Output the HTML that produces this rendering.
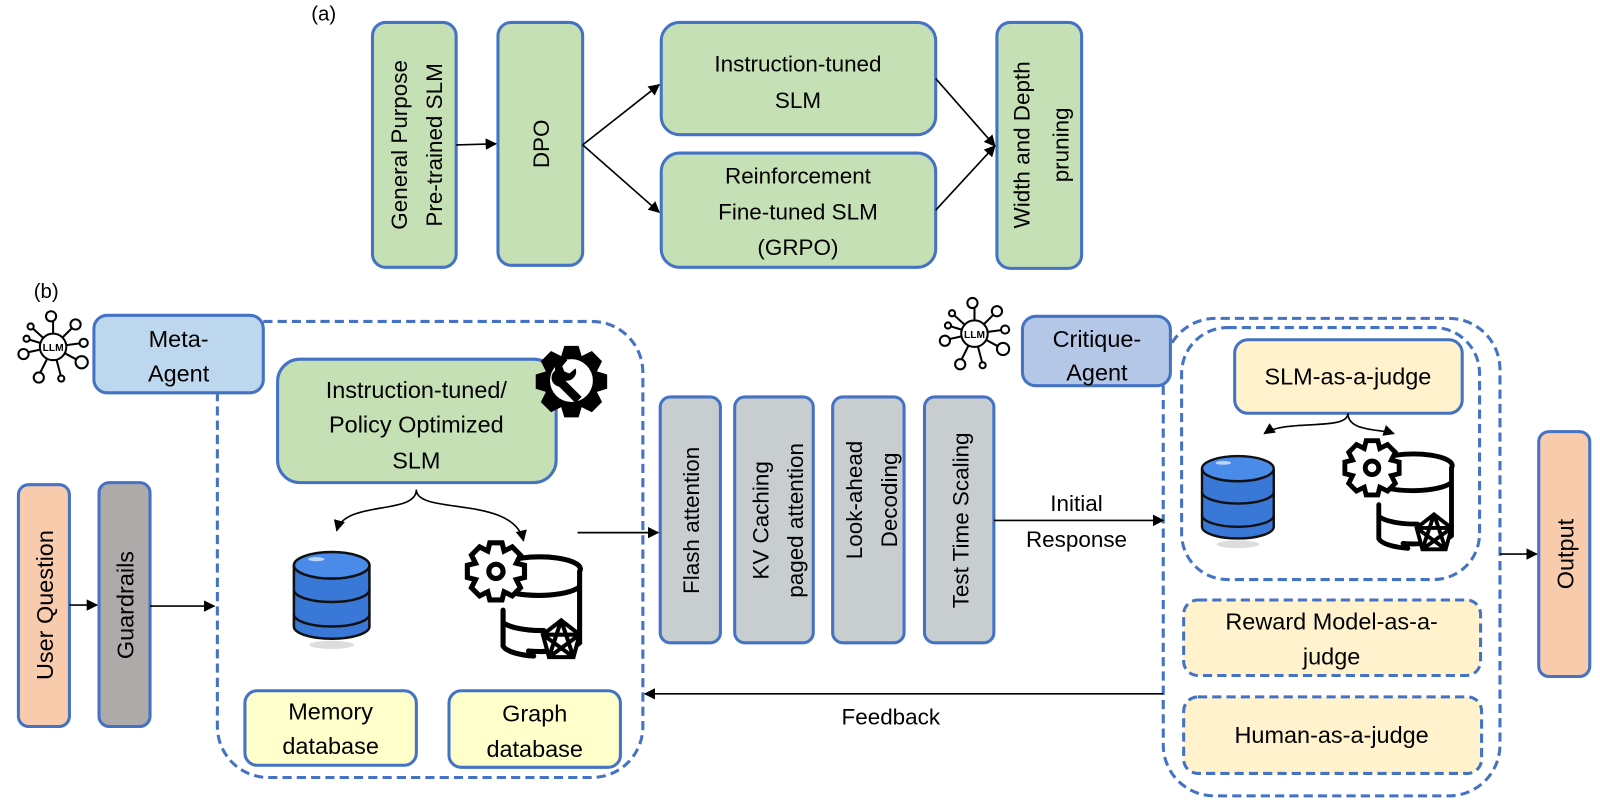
<!DOCTYPE html>
<html><head><meta charset="utf-8"><style>
html,body{margin:0;padding:0;background:#fff;}
svg{display:block;}
text{font-family:"Liberation Sans",sans-serif;fill:#000;}
</style></head><body>
<svg width="1600" height="802" viewBox="0 0 1568 786" xmlns="http://www.w3.org/2000/svg">
<defs>
<marker id="ar" viewBox="0 0 10 10" refX="9" refY="5" markerWidth="7" markerHeight="7" orient="auto"><path d="M0,0 L10,5 L0,10 z" fill="#000"/></marker>
<g id="llm">
 <g stroke="#000" stroke-width="2" fill="#fff">
  <line x1="0" y1="0" x2="-22" y2="-20"/><line x1="0" y1="0" x2="0" y2="-30"/><line x1="0" y1="0" x2="22" y2="-22"/>
  <line x1="0" y1="0" x2="30" y2="-4"/><line x1="0" y1="0" x2="26" y2="14"/><line x1="0" y1="0" x2="8" y2="30"/>
  <line x1="0" y1="0" x2="-14" y2="28"/><line x1="0" y1="0" x2="-28" y2="6"/><line x1="0" y1="0" x2="-26" y2="-8"/>
  <circle r="13"/>
  <circle cx="-2" cy="-30" r="5"/><circle cx="22" cy="-22" r="5"/><circle cx="-22" cy="-20" r="3"/>
  <circle cx="30" cy="-4" r="4"/><circle cx="28" cy="15" r="6"/><circle cx="8" cy="31" r="3"/>
  <circle cx="-14" cy="30" r="5"/><circle cx="-29" cy="7" r="5"/><circle cx="-26" cy="-8" r="3"/>
 </g>
 <text x="0" y="4" font-size="10" text-anchor="middle" font-weight="bold">LLM</text>
</g>
<g id="db">
 <ellipse cx="37" cy="92" rx="22" ry="4" fill="#ddd"/>
 <g stroke="#111" stroke-width="2.5" fill="#3a78d8">
  <path d="M0,62 v12 a37,12 0 0 0 74,0 v-12"/>
  <path d="M0,38 v24 a37,12 0 0 0 74,0 v-24"/>
  <path d="M0,14 v24 a37,12 0 0 0 74,0 v-24"/>
  <ellipse cx="37" cy="14" rx="37" ry="13" fill="#4a8ae8"/>
 </g>
 <ellipse cx="22" cy="8" rx="8" ry="2" fill="#bcd4ff"/>
</g>
<g id="gdb">
 <g stroke="#000" stroke-width="5" fill="none" stroke-linecap="round">
  <path d="M40,20 a40,12 0 0 1 70,10 v70 a40,12 0 0 1 -50,8 M40,50 a42,12 0 0 0 70,-5 M35,68 v35 a40,12 0 0 0 30,10 M35,80 a40,12 0 0 0 40,8"/>
 </g>
 <g transform="translate(28,30)" fill="#fff" stroke="#000" stroke-width="5">
  <path d="M-6,-28 h12 l2,8 l8,-4 l8,8 l-4,8 l8,2 v12 l-8,2 l4,8 l-8,8 l-8,-4 l-2,8 h-12 l-2,-8 l-8,4 l-8,-8 l4,-8 l-8,-2 v-12 l8,-2 l-4,-8 l8,-8 l8,4 z"/>
  <circle r="7"/>
 </g>
 <g transform="translate(92,98)" stroke="#000" stroke-width="4" fill="#fff">
  <polygon points="0,-20 18,-6 12,16 -12,16 -18,-6"/>
  <path d="M0,-20 L-12,16 M0,-20 L12,16 M-18,-6 L18,-6 M-18,-6 L12,16 M18,-6 L-12,16" fill="none"/>
 </g>
</g>
</defs>

<!-- (a) -->
<text x="305" y="20" font-size="20">(a)</text>
<g fill="#c5e0b4" stroke="#4472c4" stroke-width="3">
 <rect x="365" y="22" width="82" height="240" rx="13"/>
 <rect x="488" y="22" width="83" height="238" rx="13"/>
 <rect x="648" y="22" width="269" height="110" rx="18"/>
 <rect x="648" y="150" width="269" height="112" rx="18"/>
 <rect x="977" y="22" width="83" height="241" rx="13"/>
</g>
<text transform="translate(399,142) rotate(-90)" font-size="22" text-anchor="middle">General Purpose</text>
<text transform="translate(433,142) rotate(-90)" font-size="22" text-anchor="middle">Pre-trained SLM</text>
<text transform="translate(538,141) rotate(-90)" font-size="22" text-anchor="middle">DPO</text>
<text x="782" y="70" font-size="22" text-anchor="middle">Instruction-tuned</text>
<text x="782" y="106" font-size="22" text-anchor="middle">SLM</text>
<text x="782" y="180" font-size="22" text-anchor="middle">Reinforcement</text>
<text x="782" y="215" font-size="22" text-anchor="middle">Fine-tuned SLM</text>
<text x="782" y="250" font-size="22" text-anchor="middle">(GRPO)</text>
<text transform="translate(1009,142) rotate(-90)" font-size="22" text-anchor="middle">Width and Depth</text>
<text transform="translate(1047,142) rotate(-90)" font-size="22" text-anchor="middle">pruning</text>
<g stroke="#000" stroke-width="1.6" marker-end="url(#ar)" fill="none">
 <line x1="447" y1="142" x2="486" y2="141"/>
 <line x1="571" y1="142" x2="646" y2="83"/>
 <line x1="571" y1="142" x2="646" y2="208"/>
 <line x1="917" y1="77" x2="975" y2="143"/>
 <line x1="917" y1="206" x2="975" y2="143"/>
</g>

<!-- (b) -->
<text x="33" y="292" font-size="20">(b)</text>
<use href="#llm" x="52" y="340"/>
<use href="#llm" x="955" y="327"/>

<g fill="none" stroke="#4472c4" stroke-width="3" stroke-dasharray="9,5">
 <path d="M258,315 H580 a50,50 0 0 1 50,50 V712 a50,50 0 0 1 -50,50 H263 a50,50 0 0 1 -50,-50 V385"/>
 <path d="M1140,378 V730 a50,50 0 0 0 50,50 H1420 a50,50 0 0 0 50,-50 V362 a50,50 0 0 0 -50,-50 H1190 a50,50 0 0 0 -42,25"/>
 <rect x="1158" y="321" width="292" height="247" rx="45"/>
 <rect x="1160" y="588" width="291" height="74" rx="14" fill="#fff2cc"/>
 <rect x="1160" y="683" width="292" height="75" rx="14" fill="#fff2cc"/>
</g>

<g stroke="#4472c4" stroke-width="3">
 <rect x="92" y="309" width="166" height="76" rx="13" fill="#bdd7ee"/>
 <rect x="272" y="352" width="273" height="121" rx="22" fill="#c5e0b4"/>
 <rect x="240" y="677" width="168" height="73" rx="12" fill="#ffffcc"/>
 <rect x="440" y="677" width="168" height="75" rx="12" fill="#ffffcc"/>
 <rect x="18" y="475" width="50" height="237" rx="10" fill="#f8cbad"/>
 <rect x="97" y="473" width="50" height="239" rx="10" fill="#aeaaaa"/>
 <rect x="647" y="389" width="59" height="241" rx="10" fill="#c8cdd0"/>
 <rect x="720" y="389" width="77" height="241" rx="10" fill="#c8cdd0"/>
 <rect x="816" y="389" width="70" height="241" rx="10" fill="#c8cdd0"/>
 <rect x="906" y="389" width="68" height="241" rx="10" fill="#c8cdd0"/>
 <rect x="1002" y="310" width="145" height="68" rx="13" fill="#b4c7e7"/>
 <rect x="1210" y="333" width="223" height="72" rx="13" fill="#fff2cc"/>
 <rect x="1508" y="423" width="50" height="240" rx="10" fill="#f8cbad"/>
</g>

<!-- gear-wrench icon -->
<g transform="translate(560,373)">
 <path d="M-7,-34 h14 l3,10 l10,-5 l10,10 l-5,10 l10,3 v14 l-10,3 l5,10 l-10,10 l-10,-5 l-3,10 h-14 l-3,-10 l-10,5 l-10,-10 l5,-10 l-10,-3 v-14 l10,-3 l-5,-10 l10,-10 l10,5 z" fill="#000"/>
 <circle r="21" fill="#fff"/>
 <path d="M-16,-10 a9,9 0 0 1 12,-10 l-5,6 l2,5 l5,2 l6,-5 a9,9 0 0 1 -10,12 l16,16 l-6,6 l-16,-16 a9,9 0 0 1 -4,-16 z" fill="#000"/>
</g>

<text x="175" y="340" font-size="23" text-anchor="middle">Meta-</text>
<text x="175" y="374" font-size="23" text-anchor="middle">Agent</text>
<text x="408" y="390" font-size="23" text-anchor="middle">Instruction-tuned/</text>
<text x="408" y="424" font-size="23" text-anchor="middle">Policy Optimized</text>
<text x="408" y="459" font-size="23" text-anchor="middle">SLM</text>
<text x="324" y="705" font-size="23" text-anchor="middle">Memory</text>
<text x="324" y="739" font-size="23" text-anchor="middle">database</text>
<text x="524" y="707" font-size="23" text-anchor="middle">Graph</text>
<text x="524" y="742" font-size="23" text-anchor="middle">database</text>
<text transform="translate(52,593) rotate(-90)" font-size="23" text-anchor="middle">User Question</text>
<text transform="translate(131,593) rotate(-90)" font-size="23" text-anchor="middle">Guardrails</text>
<text transform="translate(685,510) rotate(-90)" font-size="22" text-anchor="middle">Flash attention</text>
<text transform="translate(753,510) rotate(-90)" font-size="22" text-anchor="middle">KV Caching</text>
<text transform="translate(787,510) rotate(-90)" font-size="22" text-anchor="middle">paged attention</text>
<text transform="translate(845,490) rotate(-90)" font-size="22" text-anchor="middle">Look-ahead</text>
<text transform="translate(879,490) rotate(-90)" font-size="22" text-anchor="middle">Decoding</text>
<text transform="translate(949,510) rotate(-90)" font-size="22" text-anchor="middle">Test Time Scaling</text>
<text x="1075" y="340" font-size="23" text-anchor="middle">Critique-</text>
<text x="1075" y="373" font-size="23" text-anchor="middle">Agent</text>
<text x="1321" y="377" font-size="23" text-anchor="middle">SLM-as-a-judge</text>
<text x="1305" y="617" font-size="23" text-anchor="middle">Reward Model-as-a-</text>
<text x="1305" y="651" font-size="23" text-anchor="middle">judge</text>
<text x="1305" y="728" font-size="23" text-anchor="middle">Human-as-a-judge</text>
<text transform="translate(1542,543) rotate(-90)" font-size="23" text-anchor="middle">Output</text>
<text x="1055" y="501" font-size="22" text-anchor="middle">Initial</text>
<text x="1055" y="536" font-size="22" text-anchor="middle">Response</text>
<text x="873" y="710" font-size="22" text-anchor="middle">Feedback</text>

<use href="#db" x="288" y="540"/>
<use href="#gdb" x="458" y="530"/>
<g transform="translate(1178,446) scale(0.95)"><use href="#db"/></g>
<g transform="translate(1318,430) scale(0.95)"><use href="#gdb"/></g>

<g stroke="#000" stroke-width="1.6" fill="none" marker-end="url(#ar)">
 <line x1="68" y1="593" x2="95" y2="593"/>
 <line x1="147" y1="594" x2="210" y2="594"/>
 <line x1="566" y1="522" x2="645" y2="522"/>
 <line x1="974" y1="510" x2="1140" y2="510"/>
 <line x1="1140" y1="680" x2="632" y2="680"/>
 <line x1="1470" y1="543" x2="1506" y2="543"/>
 <path d="M408,480 c0,25 -70,10 -78,40"/>
 <path d="M408,480 c0,25 95,5 105,50"/>
 <path d="M1321,405 c0,18 -60,5 -82,20"/>
 <path d="M1321,405 c0,18 30,15 45,20"/>
</g>
</svg>
</body></html>
